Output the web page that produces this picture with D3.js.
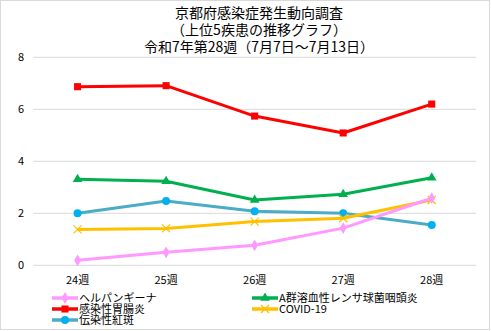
<!DOCTYPE html>
<html><head><meta charset="utf-8">
<script src="https://cdn.jsdelivr.net/npm/d3@7"></script>
<style>body{margin:0;background:#fff}svg{display:block}</style>
</head><body>
<script>
const weeks = ["24週","25週","26週","27週","28週"];
const yTicks = [0,2,4,6,8];
const herpangina = [0.19,0.50,0.77,1.43,2.58];
const gastro = [6.87,6.91,5.74,5.09,6.20];
const strep = [3.31,3.23,2.51,2.73,3.37];
const covid = [1.38,1.42,1.68,1.81,2.51];
const erythema = [2.00,2.47,2.08,2.00,1.55];
const seriesNames = ["ヘルパンギーナ","A群溶血性レンサ球菌咽頭炎","感染性胃腸炎","COVID-19","伝染性紅斑"];
const titleLines = ["京都府感染症発生動向調査","（上位5疾患の推移グラフ）","令和7年第28週（7月7日～7月13日）"];

const W=491,H=331;
const svg=d3.select("body").append("svg").attr("width",W).attr("height",H);
const font="'Noto Sans CJK JP','Noto Sans',sans-serif";
svg.append("rect").attr("x",0.5).attr("y",0.5).attr("width",W-2).attr("height",H-2).attr("fill","#fff").attr("stroke","#d9d9d9");

const x=d3.scaleBand().domain(weeks).range([33.3,476]);
const y=d3.scaleLinear().domain([0,8]).range([265.3,57.3]);

svg.append("g").selectAll("line").data(yTicks).join("line")
 .attr("x1",33.3).attr("x2",476).attr("y1",d=>y(d)).attr("y2",d=>y(d))
 .attr("stroke","#d9d9d9").attr("stroke-width",1);
svg.append("g").selectAll("text").data(yTicks).join("text")
 .attr("x",21).attr("y",d=>y(d)+4).attr("text-anchor","middle")
 .attr("font-family",font).attr("font-size",11).text(d=>d);
svg.append("g").selectAll("text").data(weeks).join("text")
 .attr("x",d=>x(d)+x.bandwidth()/2).attr("y",284).attr("text-anchor","middle")
 .attr("font-family",font).attr("font-size",11).text(d=>d);

svg.selectAll(".t").data(titleLines).join("text")
 .attr("x",259).attr("y",(d,i)=>18+i*17).attr("text-anchor","middle")
 .attr("font-family",font).attr("font-size",14).text(d=>d);

const series=[
 {name:seriesNames[0],vals:herpangina,line:"#ff99ff",mk:"#ff99ff",shape:"diamond"},
 {name:seriesNames[1],vals:strep,line:"#00b050",mk:"#00b050",shape:"triangle"},
 {name:seriesNames[2],vals:gastro,line:"#ff0000",mk:"#ff0000",shape:"square"},
 {name:seriesNames[3],vals:covid,line:"#ffc000",mk:"#ffc000",shape:"x"},
 {name:seriesNames[4],vals:erythema,line:"#4bacc6",mk:"#00b0f0",shape:"circle"}
];
const cx=d=>x(d)+x.bandwidth()/2;
function marker(g,s,px,py){
 if(s.shape==="x"){
  g.append("path").attr("d",`M${px-4},${py-4}L${px+4},${py+4}M${px-4},${py+4}L${px+4},${py-4}`).attr("stroke",s.mk).attr("stroke-width",1.2).attr("fill","none");
 } else {
  const t={diamond:d3.symbolDiamond,triangle:d3.symbolTriangle,square:d3.symbolSquare,circle:d3.symbolCircle}[s.shape];
  const size={diamond:40,triangle:40,square:50,circle:50}[s.shape];
  g.append("path").attr("d",d3.symbol(t,size)()).attr("transform",`translate(${px},${py})`).attr("fill",s.mk);
 }
}
const order=[4,3,1,0,2];
order.forEach(i=>{
 const s=series[i];
 const g=svg.append("g");
 g.append("path").datum(s.vals).attr("fill","none").attr("stroke",s.line).attr("stroke-width",3).attr("stroke-linejoin","round")
  .attr("d",d3.line().x((d,j)=>cx(weeks[j])).y(d=>y(d)));
 s.vals.forEach((v,j)=>marker(g,s,cx(weeks[j]),y(v)));
});

// legend
const legPos=[[52,298],[252,298],[52,309],[252,309],[52,320]];
series.forEach((s,i)=>{
 const [lx,ly]=legPos[i];
 const g=svg.append("g");
 g.append("line").attr("x1",lx).attr("x2",lx+26).attr("y1",ly).attr("y2",ly).attr("stroke",s.line).attr("stroke-width",3.5);
 marker(g,s,lx+13,ly);
 g.append("text").attr("x",lx+27).attr("y",ly+4).attr("font-family",font).attr("font-size",11).attr("textLength",null).text(s.name);
});
</script>
</body></html>
